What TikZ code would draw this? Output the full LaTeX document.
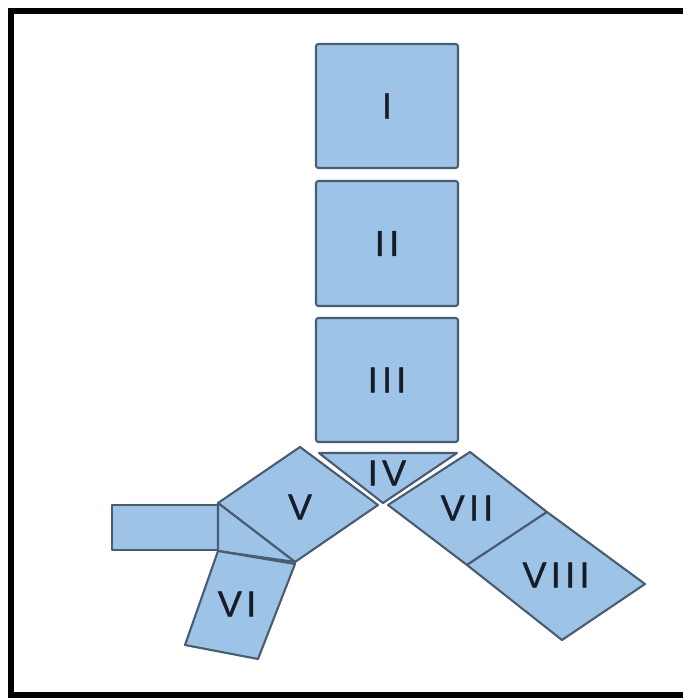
\documentclass[tikz,border=0pt]{standalone}
\usepackage{fontspec}
\newfontfamily\labfont[LetterSpace=12,FakeBold=1]{Liberation Sans}
\definecolor{boxfill}{RGB}{157,195,230}
\definecolor{boxline}{RGB}{72,92,114}
\definecolor{labcol}{RGB}{22,28,40}
\begin{document}
\begin{tikzpicture}[x=1pt,y=-1pt,
  part/.style={fill=boxfill,draw=boxline,line width=2.1pt,line join=round},
  sq/.style={part,rounded corners=2.5pt,minimum width=142pt,minimum height=124pt,inner sep=0pt},
  lab/.style={font=\labfont\fontsize{36}{36}\selectfont,text=labcol,inner sep=0pt}]
\useasboundingbox (0,0) rectangle (683,700);
\fill[white] (0,0) rectangle (683,700);
% frame
\draw[line width=6.5pt] (8,11) -- (683,11);
\draw[line width=6.5pt] (11,8) -- (11,697);
\draw[line width=6.5pt] (8,695) -- (683,695);
% trunk boxes
\node[sq] (b1) at (387,106) {};
\node[sq,minimum height=125pt] (b2) at (387,243.5) {};
\node[sq] (b3) at (387,380) {};
\node[lab] (l1) at (b1) {I};
\node[lab] (l2) at (b2) {II};
\node[lab] (l3) at (b3) {III};
% IV
\coordinate (iva) at (319,453);
\coordinate (ivb) at (457,453);
\coordinate (ivc) at (383,503);
\draw[part] (iva) -- (ivb) -- (ivc) -- cycle;
\node[lab] (l4) at (387,473) {IV};
% V
\coordinate (va) at (218,503);
\coordinate (vb) at (300,447);
\coordinate (vc) at (378,505);
\coordinate (vd) at (295,562);
\draw[part] (va) -- (vb) -- (vc) -- (vd) -- cycle;
\node[lab] (l5) at (300,507) {V};
% left rectangle
\node[part,minimum width=106pt,minimum height=45pt,inner sep=0pt] (lr) at (165,527.5) {};
% small triangle
\coordinate (ta) at (218,551);
\draw[part] (va) -- (vd) -- (ta) -- cycle;
% VI
\coordinate (vic) at (258,659);
\coordinate (vid) at (185,645);
\coordinate (vib) at (295,564);
\draw[part] (ta) -- (vib) -- (vic) -- (vid) -- cycle;
\node[lab] (l6) at (237,604) {VI};
% VII
\coordinate (wa) at (388,505);
\coordinate (wb) at (470,452);
\coordinate (wc) at (547,512);
\coordinate (wd) at (467,565);
\draw[part] (wa) -- (wb) -- (wc) -- (wd) -- cycle;
\node[lab] (l7) at (467,508) {VII};
% VIII
\coordinate (xb) at (645,584);
\coordinate (xc) at (562,640);
\draw[part] (wc) -- (xb) -- (xc) -- (wd) -- cycle;
\node[lab] (l8) at (556,575) {VIII};
\end{tikzpicture}
\end{document}
